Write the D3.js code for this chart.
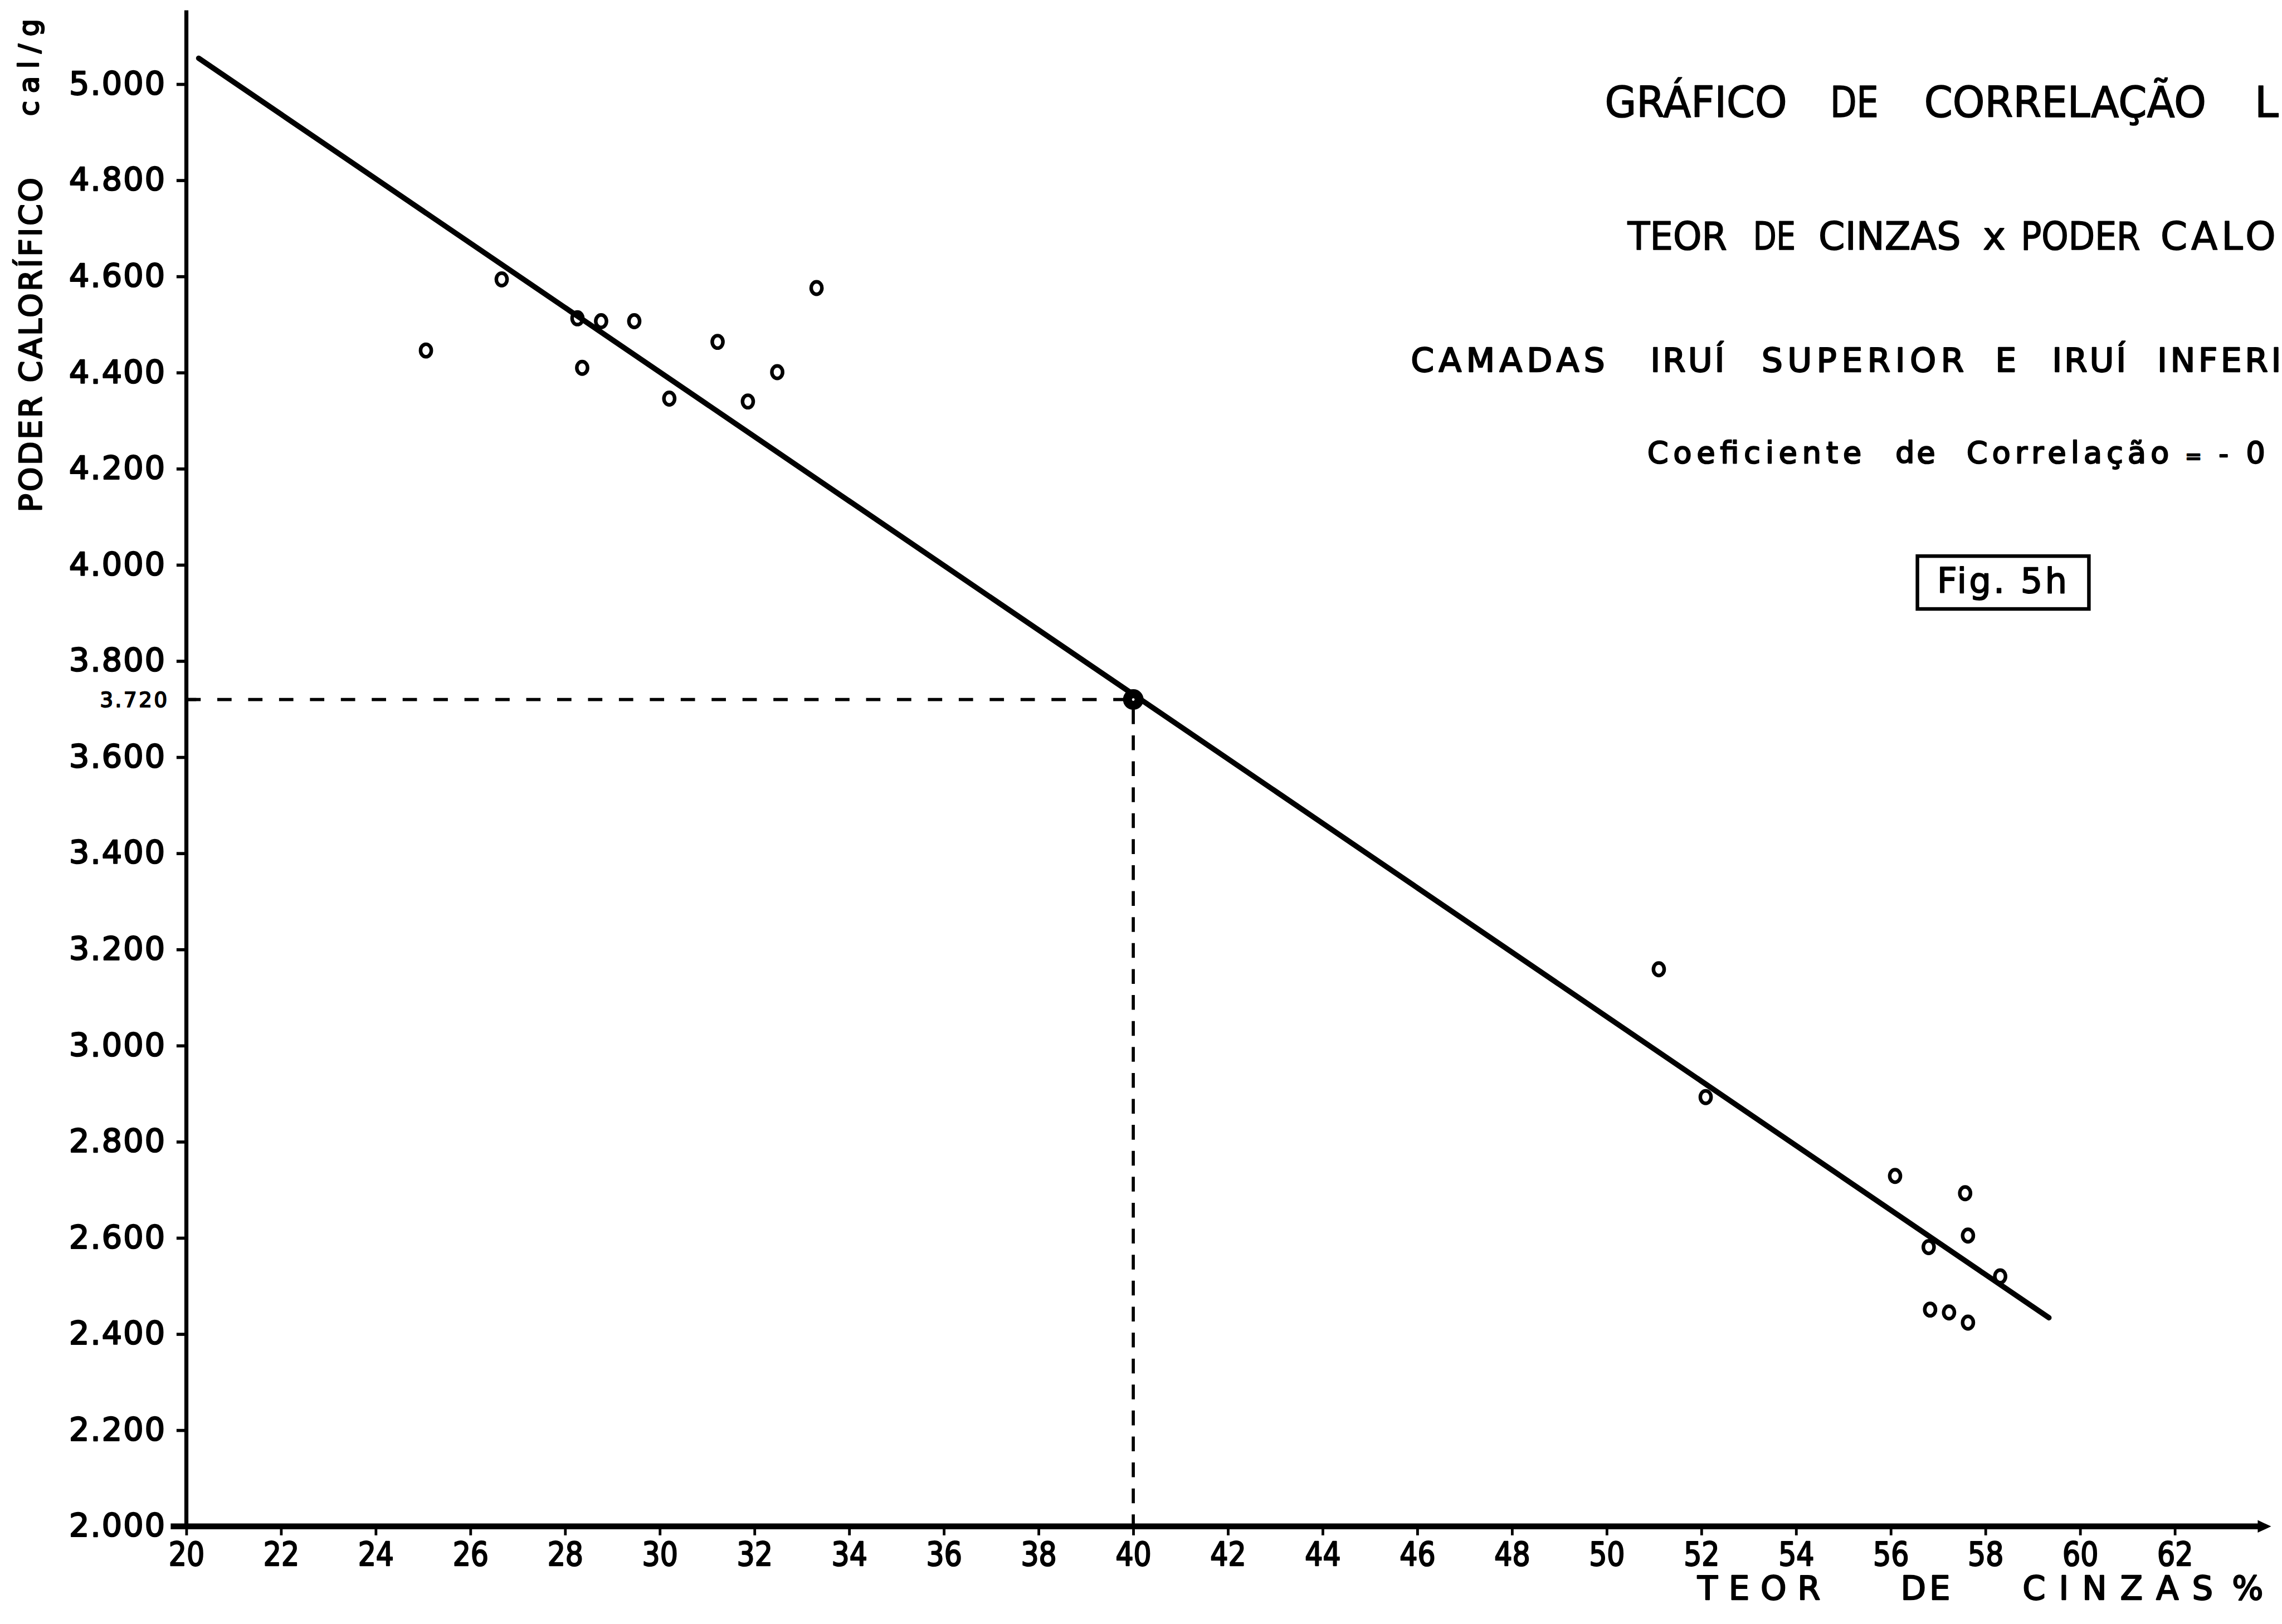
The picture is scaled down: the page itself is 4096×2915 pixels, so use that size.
<!DOCTYPE html>
<html>
<head>
<meta charset="utf-8">
<script src="https://cdn.jsdelivr.net/npm/d3@7"></script>
<style>
  html, body { margin: 0; padding: 0; background: #fff; overflow: hidden; }
  text { font-family: "DejaVu Sans", "Liberation Sans", sans-serif; fill: #000; }
</style>
</head>
<body>
<script>
// Ash content (%) and calorific power (cal/g) of the samples
const ashContent = [25.06, 26.66, 28.26, 28.76, 28.36, 29.46, 30.20, 31.22, 31.86, 32.48, 33.31,
                    51.10, 52.09, 56.09, 57.57, 57.63, 56.80, 58.31, 56.83, 57.23, 57.63];
const calorificPower = [4446, 4594, 4513, 4507, 4410, 4507, 4346, 4464, 4340, 4401, 4576,
                        3159, 2893, 2729, 2693, 2605, 2581, 2520, 2451, 2445, 2424];

// Regression line end points
const fitAsh = [20.26, 59.34];
const fitCal = [5054, 2434];

// Reading taken from the regression line
const readAsh = 40;
const readCal = 3720;
const readLabel = "3.720";

// Axis ticks
const xTickValues = [20, 22, 24, 26, 28, 30, 32, 34, 36, 38, 40, 42, 44, 46, 48, 50, 52, 54, 56, 58, 60, 62];
const yTickValues = [2000, 2200, 2400, 2600, 2800, 3000, 3200, 3400, 3600, 3800, 4000, 4200, 4400, 4600, 4800, 5000];
const yTickLabels = ["2.000", "2.200", "2.400", "2.600", "2.800", "3.000", "3.200", "3.400",
                     "3.600", "3.800", "4.000", "4.200", "4.400", "4.600", "4.800", "5.000"];

// Drawing space (the svg viewBox is laid out in these units)
const W = 5096, H = 3627;

const svg = d3.select("body").append("svg")
  .attr("width", 4096).attr("height", 2915)
  .attr("viewBox", `0 0 ${W} ${H}`);

const x = d3.scaleLinear().domain([20, 62]).range([416, 4857]);
const y = d3.scaleLinear().domain([2000, 5000]).range([3409, 188]);

// fit a text element to a given advance: stretch letter spacing when it is
// narrower than the target, squeeze the glyphs when it is wider
function fitText(sel, target) {
  sel.each(function () {
    const natural = this.getComputedTextLength();
    d3.select(this)
      .attr("textLength", target)
      .attr("lengthAdjust", natural > target ? "spacingAndGlyphs" : "spacing");
  });
  return sel;
}

// pen weight of the lettering
function ink(sel, w) {
  return sel.attr("stroke", "#000").attr("stroke-width", w).attr("stroke-linejoin", "round");
}

// ---- axes ----
const yAxis = d3.axisLeft(y)
  .tickValues(yTickValues)
  .tickFormat((d, i) => yTickLabels[i])
  .tickSize(22).tickSizeOuter(0).tickPadding(26);

const gy = svg.append("g").attr("transform", `translate(${x(20)},0)`).call(yAxis);
gy.select(".domain").remove();
gy.selectAll(".tick line").attr("stroke", "#000").attr("stroke-width", 7);
const yLabels = gy.selectAll(".tick text")
  .attr("font-size", 71)
  .attr("font-family", "DejaVu Sans");
ink(yLabels, 3);
fitText(yLabels, 214);

const xAxis = d3.axisBottom(x)
  .tickValues(xTickValues)
  .tickFormat(d3.format("d"))
  .tickSize(20).tickSizeOuter(0).tickPadding(16);

const gx = svg.append("g").attr("transform", `translate(0,${y(2000)})`).call(xAxis);
gx.select(".domain").remove();
gx.selectAll(".tick line").attr("stroke", "#000").attr("stroke-width", 6);
const xLabels = gx.selectAll(".tick text")
  .attr("font-size", 72)
  .attr("font-family", "DejaVu Sans");
ink(xLabels, 3);
fitText(xLabels, 80);

// axis lines
svg.append("line")
  .attr("x1", x(20)).attr("x2", x(20))
  .attr("y1", 23).attr("y2", y(2000) + 6)
  .attr("stroke", "#000").attr("stroke-width", 9);

svg.append("line")
  .attr("x1", 381).attr("x2", 5050)
  .attr("y1", y(2000)).attr("y2", y(2000))
  .attr("stroke", "#000").attr("stroke-width", 13);

svg.append("path")
  .attr("d", `M5072,${y(2000)} L5042,${y(2000) - 14} L5042,${y(2000) + 14} Z`)
  .attr("fill", "#000");

// ---- reading guides ----
svg.append("line")
  .attr("x1", x(20)).attr("x2", x(readAsh) - 16)
  .attr("y1", y(readCal)).attr("y2", y(readCal))
  .attr("stroke", "#000").attr("stroke-width", 7)
  .attr("stroke-dasharray", "32 37");

svg.append("line")
  .attr("x1", x(readAsh)).attr("x2", x(readAsh))
  .attr("y1", y(readCal) + 22).attr("y2", y(2000))
  .attr("stroke", "#000").attr("stroke-width", 7)
  .attr("stroke-dasharray", "33 25");

svg.append("line")
  .attr("x1", x(20)).attr("x2", x(20) + 22)
  .attr("y1", y(readCal)).attr("y2", y(readCal))
  .attr("stroke", "#000").attr("stroke-width", 7);

const readText = svg.append("text")
  .attr("x", 373).attr("y", y(readCal))
  .attr("dy", "0.36em")
  .attr("text-anchor", "end")
  .attr("font-size", 46)
  .text(readLabel);
ink(readText, 2.5);
fitText(readText, 150);

// ---- regression line ----
const fitLine = d3.line().x(d => x(d[0])).y(d => y(d[1]));
svg.append("path")
  .attr("d", fitLine(d3.zip(fitAsh, fitCal)))
  .attr("fill", "none")
  .attr("stroke", "#000")
  .attr("stroke-width", 12)
  .attr("stroke-linecap", "round");

// ---- samples ----
svg.append("g").selectAll("ellipse")
  .data(d3.zip(ashContent, calorificPower))
  .join("ellipse")
  .attr("cx", d => x(d[0]))
  .attr("cy", d => y(d[1]))
  .attr("rx", 12)
  .attr("ry", 14)
  .attr("fill", "none")
  .attr("stroke", "#000")
  .attr("stroke-width", 8);

svg.append("circle")
  .attr("cx", x(readAsh)).attr("cy", y(readCal))
  .attr("r", 13)
  .attr("fill", "none")
  .attr("stroke", "#000")
  .attr("stroke-width", 20);

// ---- axis titles ----
const yTitle = svg.append("text")
  .attr("transform", "translate(92,1144) rotate(-90)")
  .attr("font-size", 69)
  .text("PODER CALORÍFICO");
ink(yTitle, 3);
fitText(yTitle, 747);

const yUnit = svg.append("text")
  .attr("transform", "translate(86,259) rotate(-90)")
  .attr("font-size", 62)
  .text("cal/g");
ink(yUnit, 3);
fitText(yUnit, 217);

// word placements: [text, start, end, optional size]
function placeWords(words, baseline, size, weight) {
  words.forEach(([txt, x0, x1, s]) => {
    const t = svg.append("text")
      .attr("x", x0).attr("y", baseline)
      .attr("font-size", s || size)
      .text(txt);
    ink(t, weight);
    if (txt.length > 1) fitText(t, x1 - x0);
  });
}

placeWords([["TEOR", 3791, 4065], ["DE", 4245, 4355], ["CINZAS", 4517, 4942], ["%", 4985, 5058]], 3572, 73, 3);

// ---- heading block ----
placeWords([["GRÁFICO", 3584, 3991], ["DE", 4087, 4195], ["CORRELAÇÃO", 4297, 4927], ["L", 5035, 5079]], 261, 96, 2);
placeWords([["TEOR", 3635, 3857], ["DE", 3915, 4010], ["CINZAS", 4061, 4379], ["x", 4428, 4462],
            ["PODER", 4513, 4780], ["CALO", 4825, 5082]], 558, 86, 2);
placeWords([["CAMADAS", 3151, 3584], ["IRUÍ", 3686, 3851], ["SUPERIOR", 3934, 4386], ["E", 4456, 4500],
            ["IRUÍ", 4583, 4748], ["INFERI", 4818, 5094]], 830, 74, 3);
placeWords([["Coeficiente", 3679, 4157], ["de", 4233, 4322], ["Correlação", 4392, 4844], ["=", 4880, 4910, 44],
            ["-", 4955, 4985, 60], ["0", 5016, 5070]], 1034, 67, 3);

// figure tag
svg.append("rect")
  .attr("x", 4282).attr("y", 1242)
  .attr("width", 383).attr("height", 118)
  .attr("fill", "none").attr("stroke", "#000").attr("stroke-width", 8);

const tag = svg.append("text")
  .attr("x", 4326).attr("y", 1324)
  .attr("font-size", 77)
  .text("Fig. 5h");
ink(tag, 2.5);
fitText(tag, 290);
</script>
</body>
</html>
